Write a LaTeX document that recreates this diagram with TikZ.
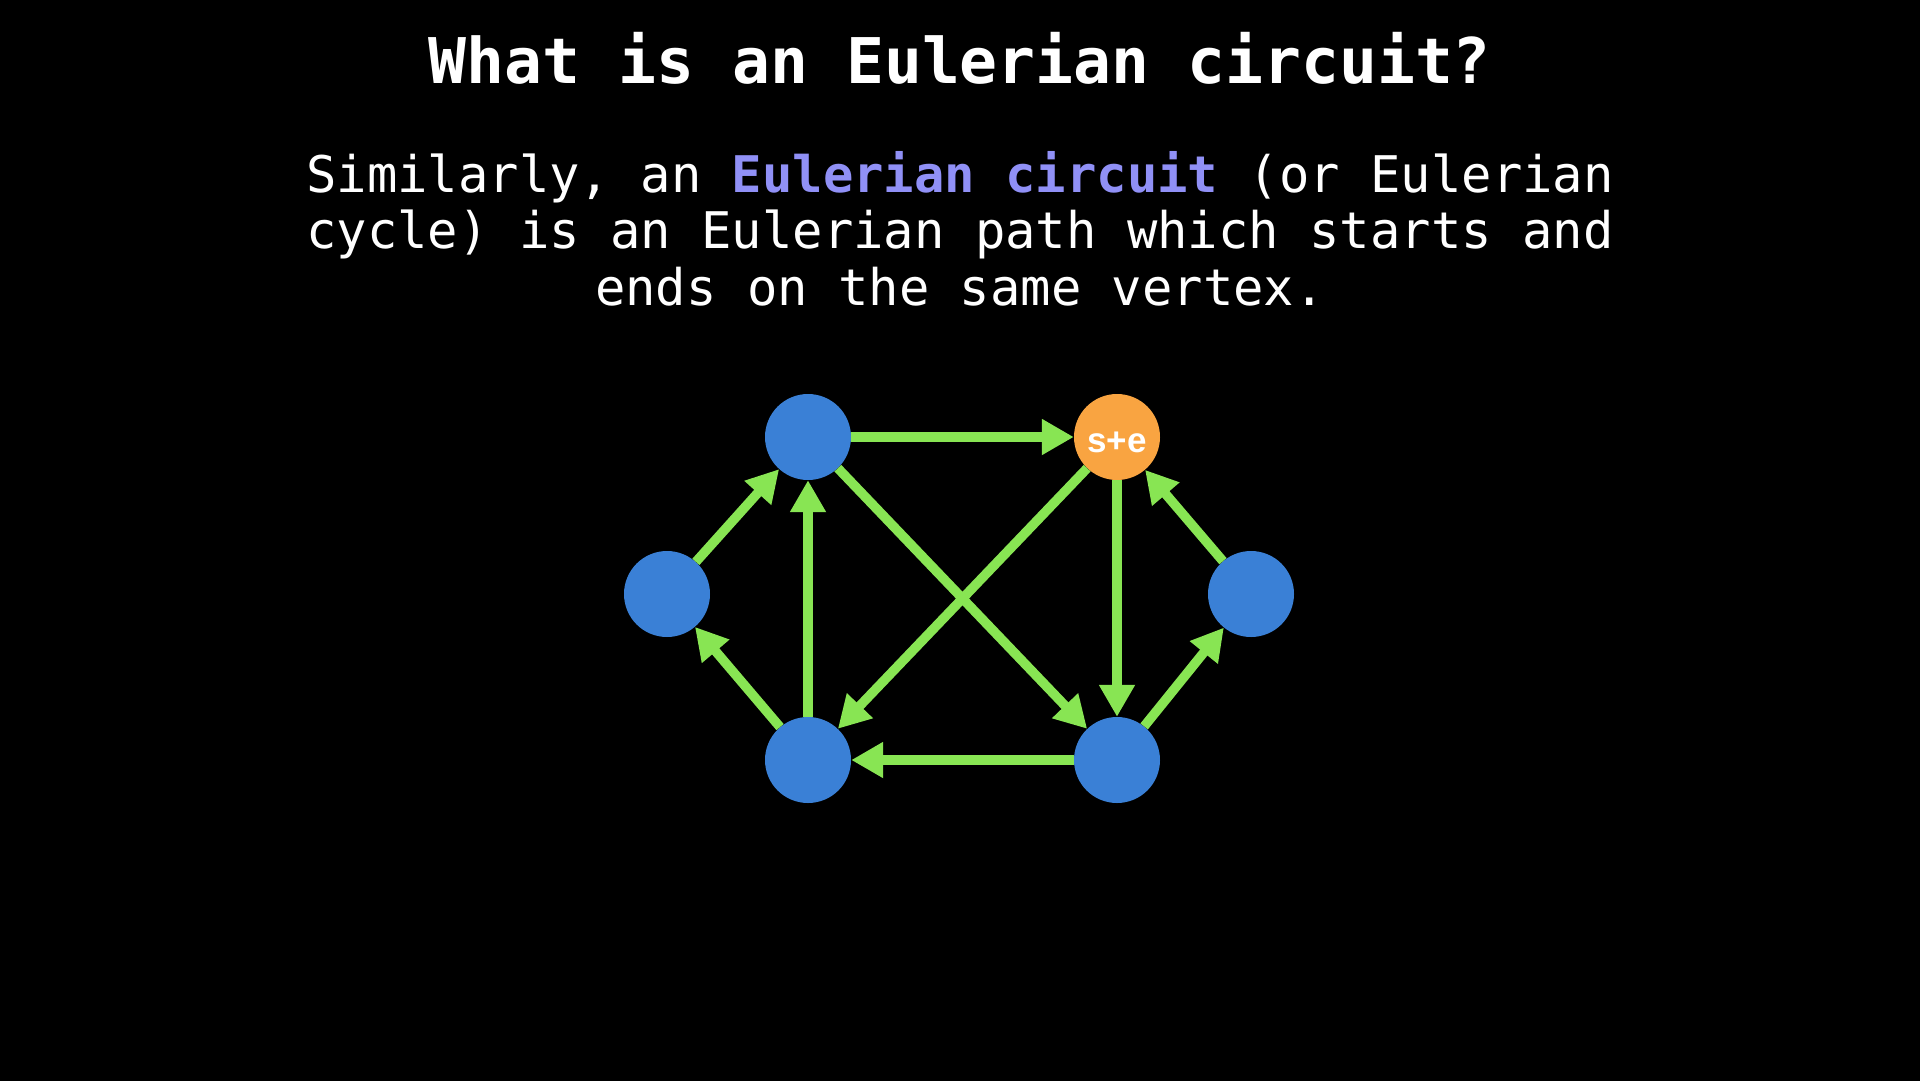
\documentclass[tikz,border=0pt]{standalone}
\usepackage{fontspec}
\newfontfamily\slidemono{DejaVu Sans Mono}
\newfontfamily\labelsans{Liberation Sans}
\usetikzlibrary{arrows.meta}
\definecolor{nodeblue}{HTML}{3A80D6}
\definecolor{nodeorange}{HTML}{F9A441}
\definecolor{edgegreen}{HTML}{88E553}
\definecolor{hilite}{HTML}{9090F6}
\tikzset{
  vert/.style={circle, fill=nodeblue, minimum size=86pt, inner sep=0pt},
  startvert/.style={vert, fill=nodeorange},
  edge/.style={draw=edgegreen, line width=9.5pt, -{Triangle[width=34pt,length=32pt]}},
  titletext/.style={text=white, anchor=base, inner sep=0pt, font=\slidemono\bfseries\fontsize{63}{70}\selectfont},
  bodytext/.style={text=white, anchor=base, inner sep=0pt, font=\slidemono\fontsize{50.5}{57}\selectfont},
}
\begin{document}
\begin{tikzpicture}[x=1pt,y=-1pt]
\useasboundingbox (0,0) rectangle (1920,1080);
\fill[black] (-20,-20) rectangle (1940,1100);

\node[titletext] (title) at (960,83) {What is an Eulerian circuit?};
\node[bodytext] (l1) at (960,192) {Similarly, an \textcolor{hilite}{\bfseries Eulerian circuit} (or Eulerian};
\node[bodytext] (l2) at (960,248) {cycle) is an Eulerian path which starts and};
\node[bodytext] (l3) at (960,305) {ends on the same vertex.};

\node[vert] (A) at (808,437) {};
\node[startvert] (B) at (1117,437) {};
\node[vert] (C) at (667,594) {};
\node[vert] (D) at (1251,594) {};
\node[vert] (E) at (808,760) {};
\node[vert] (F) at (1117,760) {};
\node[text=white, anchor=base, inner sep=0pt, font=\labelsans\bfseries\fontsize{35}{40}\selectfont] (se) at (1117,452) {s+e};

\draw[edge] (A) -- (B);
\draw[edge] (B) -- (F);
\draw[edge] (F) -- (E);
\draw[edge] (E) -- (A);
\draw[edge] (A) -- (F);
\draw[edge] (B) -- (E);
\draw[edge] (E) -- (C);
\draw[edge] (C) -- (A);
\draw[edge] (F) -- (D);
\draw[edge] (D) -- (B);
\end{tikzpicture}
\end{document}
